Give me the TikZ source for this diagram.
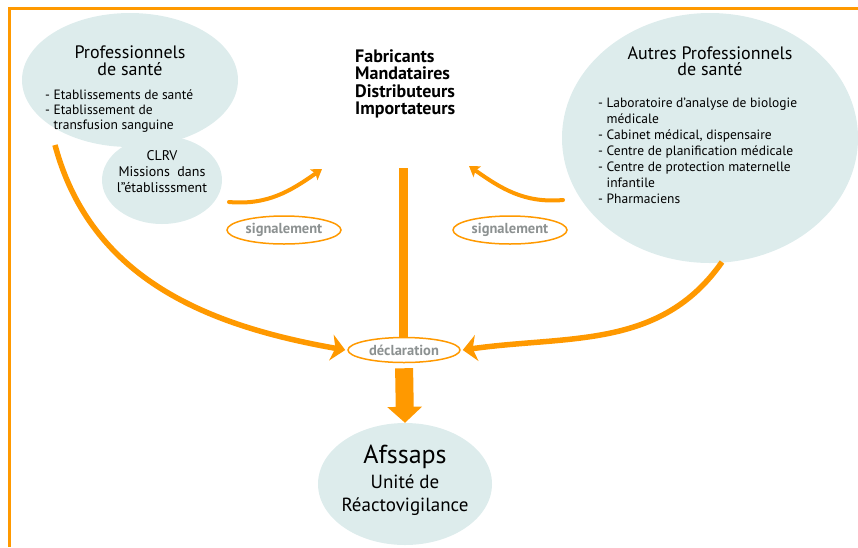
\documentclass[tikz,border=0pt]{standalone}
\usepackage{fontspec}
\setmainfont{PT Sans}
\usepackage{tikz}
\usetikzlibrary{shapes.geometric,arrows.meta}
\definecolor{orangeflux}{RGB}{255,153,0}
\definecolor{bleubulle}{RGB}{221,236,236}
\definecolor{grisetiq}{RGB}{140,145,145}

\begin{document}
\begin{tikzpicture}[x=1pt,y=1pt,
  bulle/.style={ellipse,fill=bleubulle,inner sep=0pt},
  etiq/.style={ellipse,draw=orangeflux,line width=1.5pt,inner sep=0pt,text=grisetiq,
    font=\fontsize{14.5}{14.5}\selectfont\bfseries},
  flux/.style={draw=orangeflux,line width=5.5pt,
    -{Stealth[width=26pt,length=14pt,inset=4pt]}},
  petitflux/.style={draw=orangeflux,line width=4pt,line cap=round,
    -{Stealth[width=13pt,length=10pt,inset=2pt]}},
  grosflux/.style={draw=orangeflux,line width=18pt,
    -{Triangle[width=34pt,length=16pt]}}]
 \useasboundingbox (0,0) rectangle (858,-547);

 % cadre
 \draw[orangeflux,line width=3pt] (9,-547) -- (9,-8) -- (858,-8);

 % bulles
 \node at (130,-80) [bulle,minimum width=216pt,minimum height=134pt] (pro) {};
 \node at (162,-180) [bulle,minimum width=120pt,minimum height=88pt] (clrv) {};
 \node at (710,-138) [bulle,minimum width=296pt,minimum height=250pt] (autres) {};
 \node at (405,-484) [bulle,minimum width=174pt,minimum height=122pt] (afssaps) {};

 % textes
 \node at (130,-46) [anchor=north,inner sep=0pt,align=center,
   font=\fontsize{18}{16.5}\selectfont] (protitre) {Professionnels\\de santé};
 \node at (45,-90) [anchor=north west,inner sep=0pt,align=left,
   font=\fontsize{13.5}{15}\selectfont] (proliste)
   {- Etablissements de santé\\- Etablissement de\\\hphantom{- }transfusion sanguine};
 \node at (162,-150) [anchor=north,inner sep=0pt,align=center,
   font=\fontsize{14}{16}\selectfont] (clrvtexte)
   {CLRV\\Missions\ \ dans\\l"établisssment};
 \node at (355,-49) [anchor=north west,inner sep=0pt,align=left,
   font=\fontsize{18}{17.5}\selectfont\bfseries] (fab)
   {Fabricants\\Mandataires\\Distributeurs\\Importateurs};
 \node at (710,-46) [anchor=north,inner sep=0pt,align=center,
   font=\fontsize{18}{16.5}\selectfont] (autrestitre) {Autres Professionnels\\de santé};
 \node at (598,-98) [anchor=north west,inner sep=0pt,align=left,
   font=\fontsize{13.5}{16}\selectfont] (autresliste)
   {- Laboratoire d'analyse de biologie\\\hphantom{- }médicale\\- Cabinet médical, dispensaire\\
    - Centre de planification médicale\\- Centre de protection maternelle\\
    \hphantom{- }infantile\\- Pharmaciens};
 \node at (405,-445) [anchor=north,inner sep=0pt,align=center,
   font=\fontsize{19}{23}\selectfont] (afssapstexte)
   {{\fontsize{26}{26}\selectfont Afssaps}\\[2pt]Unité de\\Réactovigilance};

 % etiquettes
 \node at (404,-350) [etiq,minimum width=112pt,minimum height=25pt] (decl) {déclaration};
 \node at (284,-230) [etiq,minimum width=114pt,minimum height=28pt] (sig1) {signalement};
 \node at (510,-230) [etiq,minimum width=114pt,minimum height=28pt] (sig2) {signalement};

 % points libres
 \coordinate (prodep) at (55,-145);
 \coordinate (autresdep) at (722,-262);
 \coordinate (fabbas) at (403,-168);
 \coordinate (sig1dep) at (229,-202);
 \coordinate (sig1fin) at (322,-169);
 \coordinate (sig2dep) at (563,-200);
 \coordinate (sig2fin) at (469,-166);

 % fleches
 \draw[flux] (prodep) to[out=-75,in=170] ([xshift=-2pt]decl.west);
 \draw[flux] (autresdep) to[out=-125,in=8] ([xshift=2pt]decl.east);
 \draw[orangeflux,line width=9pt] (fabbas) -- (fabbas |- decl.north);
 \draw[grosflux,shorten <=5pt] (decl.south) -- (afssaps.north);
 \draw[petitflux] (sig1dep) to[out=-5,in=-145] (sig1fin);
 \draw[petitflux] (sig2dep) to[out=185,in=-35] (sig2fin);
\end{tikzpicture}
\end{document}
